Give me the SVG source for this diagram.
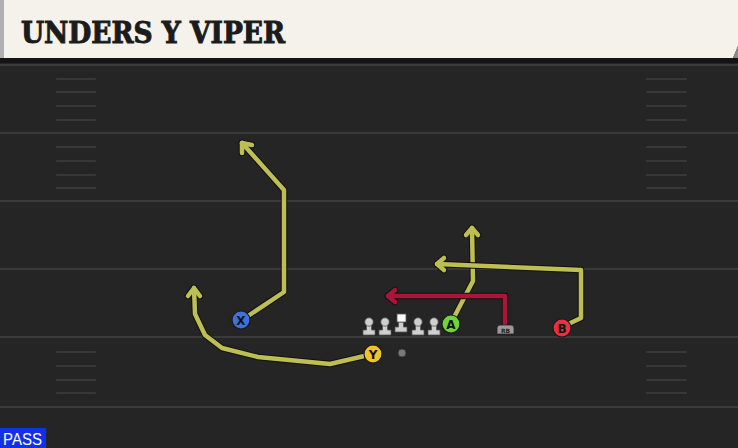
<svg xmlns="http://www.w3.org/2000/svg" width="738" height="448" viewBox="0 0 738 448">
<style>
.yl{stroke:#3a3a3a;stroke-width:2}
.hm{stroke:#383838;stroke-width:2;stroke-linecap:round}
.out{fill:none;stroke:#111;stroke-width:6.5;stroke-linejoin:round;stroke-linecap:round}
.ry{fill:none;stroke:#bdbf52;stroke-width:4.5;stroke-linejoin:round;stroke-linecap:round}
.rr{fill:none;stroke:#a8163a;stroke-width:4.5;stroke-linejoin:round;stroke-linecap:round}
.lbl{font-family:"DejaVu Sans",sans-serif;font-weight:bold;font-size:12px;fill:#111;text-anchor:middle}
.pc{stroke:#1a1a1a;stroke-width:1.2}
.ol{fill:#cfcfcf;stroke:#555;stroke-width:0.8}
</style>
<defs>
<g id="lineman">
<path class="ol" d="M-2.5,-9 L2.5,-9 L2.5,-3 L6,-3 L6,2 L-6,2 L-6,-3 L-2.5,-3 Z"/>
<circle class="ol" cx="0" cy="-11" r="4.2"/>
</g>
</defs>
<rect width="738" height="448" fill="#252525"/>
<g id="field">
<line class="yl" x1="0" y1="65" x2="738" y2="65"/>
<line class="yl" x1="0" y1="133" x2="738" y2="133"/>
<line class="yl" x1="0" y1="201" x2="738" y2="201"/>
<line class="yl" x1="0" y1="269" x2="738" y2="269"/>
<line class="yl" x1="0" y1="337" x2="738" y2="337"/>
<line class="yl" x1="0" y1="407" x2="738" y2="407"/>
<g>
<line class="hm" x1="57" y1="79" x2="95" y2="79"/><line class="hm" x1="57" y1="92" x2="95" y2="92"/><line class="hm" x1="57" y1="106" x2="95" y2="106"/><line class="hm" x1="57" y1="120" x2="95" y2="120"/>
<line class="hm" x1="57" y1="147" x2="95" y2="147"/><line class="hm" x1="57" y1="161" x2="95" y2="161"/><line class="hm" x1="57" y1="175" x2="95" y2="175"/><line class="hm" x1="57" y1="188" x2="95" y2="188"/>
<line class="hm" x1="57" y1="352" x2="95" y2="352"/><line class="hm" x1="57" y1="366" x2="95" y2="366"/><line class="hm" x1="57" y1="380" x2="95" y2="380"/><line class="hm" x1="57" y1="393" x2="95" y2="393"/>
<line class="hm" x1="647" y1="79" x2="686" y2="79"/><line class="hm" x1="647" y1="92" x2="686" y2="92"/><line class="hm" x1="647" y1="106" x2="686" y2="106"/><line class="hm" x1="647" y1="120" x2="686" y2="120"/>
<line class="hm" x1="647" y1="147" x2="686" y2="147"/><line class="hm" x1="647" y1="161" x2="686" y2="161"/><line class="hm" x1="647" y1="175" x2="686" y2="175"/><line class="hm" x1="647" y1="188" x2="686" y2="188"/>
<line class="hm" x1="647" y1="352" x2="686" y2="352"/><line class="hm" x1="647" y1="366" x2="686" y2="366"/><line class="hm" x1="647" y1="380" x2="686" y2="380"/><line class="hm" x1="647" y1="393" x2="686" y2="393"/>
</g>
</g>
<g id="header">
<rect x="0" y="58" width="738" height="5" fill="#141414"/>
<polygon points="0,0 738,0 738,46 733,58 0,58" fill="#f5f2eb"/>
<polygon points="733,58 738,46 738,58" fill="#8a8a8a"/>
<rect x="0" y="0" width="4" height="58" fill="#b0b0b0"/>
<text x="21" y="43" font-family="'DejaVu Serif Condensed','DejaVu Serif',serif" font-stretch="condensed" font-weight="bold" font-size="29" textLength="264" lengthAdjust="spacingAndGlyphs" fill="#1b1b1b" stroke="#1b1b1b" stroke-width="0.9">UNDERS Y VIPER</text>
</g>
<g id="connectors">
<g id="route-x">
<polyline class="out" points="242,320 284,292 284,190 242,143"/>
<polyline class="out" points="242,153 242,143 252,145"/>
<polyline class="ry" points="242,320 284,292 284,190 242,143"/>
<polyline class="ry" points="242,153 242,143 252,145"/>
</g>
<g id="route-y">
<polyline class="out" points="373,354 330,364 258,357 222,348 205,335 195,314 194,288"/>
<polyline class="out" points="188,296 194,288 200,296"/>
<polyline class="ry" points="373,354 330,364 258,357 222,348 205,335 195,314 194,288"/>
<polyline class="ry" points="188,296 194,288 200,296"/>
</g>
<g id="route-a">
<polyline class="out" points="451,323 473,281 472,228"/>
<polyline class="out" points="466,235 472,228 478,235"/>
<polyline class="ry" points="451,323 473,281 472,228"/>
<polyline class="ry" points="466,235 472,228 478,235"/>
</g>
<g id="route-b">
<polyline class="out" points="562,327 581,318 581,270 437,264"/>
<polyline class="out" points="444,258 437,264 444,270"/>
<polyline class="ry" points="562,327 581,318 581,270 437,264"/>
<polyline class="ry" points="444,258 437,264 444,270"/>
</g>
<g id="route-rb">
<polyline class="out" points="505,326 505,296 388,296"/>
<polyline class="out" points="395,290 388,296 395,302"/>
<polyline class="rr" points="505,326 505,296 388,296"/>
<polyline class="rr" points="395,290 388,296 395,302"/>
</g>
</g>
<g id="line">
<use href="#lineman" x="369" y="333"/>
<use href="#lineman" x="385" y="333"/>
<g id="center"><path class="ol" d="M398.5,322 L403.5,322 L403.5,327 L407,327 L407,332 L395,332 L395,327 L398.5,327 Z"/><rect x="397" y="314" width="9" height="8" fill="#fafafa" stroke="#555" stroke-width="0.8"/></g>
<use href="#lineman" x="418" y="333"/>
<use href="#lineman" x="434" y="333"/>
</g>
<g id="ball"><circle cx="402" cy="353" r="4" fill="#7a7a7a" stroke="#333" stroke-width="0.8"/></g>
<g id="player-x"><circle class="pc" cx="241" cy="320" r="9" fill="#3d72da"/><text class="lbl" x="241" y="324.5">X</text></g>
<g id="player-y"><circle class="pc" cx="373" cy="354" r="9" fill="#f0c326"/><text class="lbl" x="373" y="358.5">Y</text></g>
<g id="player-a"><circle class="pc" cx="451" cy="324" r="9" fill="#6fd43c"/><text class="lbl" x="451" y="328.5">A</text></g>
<g id="player-b"><circle class="pc" cx="562" cy="328" r="9" fill="#e8303f"/><text class="lbl" x="562" y="332.5">B</text></g>
<g id="player-rb"><path d="M500,325 L511,325 Q514,325 514,328 L514,334 L497,334 L497,328 Q497,325 500,325 Z" fill="#9a9a9a" stroke="#222" stroke-width="0.8"/><text x="505.5" y="332.5" font-family="'DejaVu Sans',sans-serif" font-weight="bold" font-size="6" fill="#222" text-anchor="middle">RB</text></g>
<g id="badge"><rect x="0" y="428" width="46" height="20" fill="#1230e8"/><text x="3" y="445" font-family="'Liberation Sans Narrow','Liberation Sans',sans-serif" font-size="16" textLength="39" lengthAdjust="spacingAndGlyphs" fill="#ffffff">PASS</text></g>
</svg>
